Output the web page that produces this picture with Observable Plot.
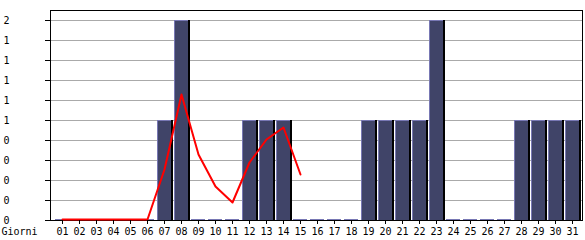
<!DOCTYPE html>
<html>
<head>
<meta charset="utf-8">
<script src="https://cdn.jsdelivr.net/npm/d3@7"></script>
<script src="https://cdn.jsdelivr.net/npm/@observablehq/plot@0.6"></script>
<style>
html,body{margin:0;padding:0;background:#fff;}
svg{display:block;}
</style>
</head>
<body>
<div id="chart"></div>
<script>
const dayLabels = ["01","02","03","04","05","06","07","08","09","10","11","12","13","14","15","16","17","18","19","20","21","22","23","24","25","26","27","28","29","30","31"];
const counts = [0,0,0,0,0,0,1,2,0,0,0,1,1,1,0,0,0,0,1,1,1,1,2,0,0,0,0,1,1,1,1];
const trendDays = ["01","02","03","04","05","06","07","08","09","10","11","12","13","14","15"];
const trendValues = [0,0,0,0,0,0,0.5,1.25,0.65,0.33,0.17,0.57,0.8,0.92,0.45];
const yTicks = [0,0.2,0.4,0.6,0.8,1,1.2,1.4,1.6,1.8,2];
const yTickLabels = ["0","0","0","0","0","1","1","1","1","1","2"];
const xTitle = "Giorni";

const bars = dayLabels.map((lab, i) => ({day: i + 1, label: lab, v: counts[i]}));
const trend = trendDays.map((lab, i) => ({day: +lab, v: trendValues[i]}));
const yAxis = yTicks.map((t, i) => ({t, label: yTickLabels[i]}));

const half = 7 / 17, sh = 9 / 17;
const dark = "#404468", lav = "#7878b4";
const font = "DejaVu Sans Mono";

const chart = Plot.plot({
  width: 585,
  height: 240,
  marginLeft: 50,
  marginRight: 3,
  marginTop: 10,
  marginBottom: 20,
  style: {fontFamily: font, fontSize: "10px", background: "#fff", color: "#000"},
  x: {type: "linear", domain: [1 - 12 / 17, 1 + 520 / 17], axis: null},
  y: {type: "linear", domain: [0, 2.1], axis: null},
  marks: [
    Plot.ruleY(yTicks.filter(t => t > 0), {stroke: "#aaaaaa"}),
    Plot.rect(bars.filter(b => b.v > 0), {x1: d => d.day - half, x2: d => d.day + half, y1: 0, y2: "v", fill: dark}),
    Plot.rect(bars.filter(b => b.v > 0), {x1: d => d.day + half, x2: d => d.day + sh, y1: 0, y2: "v", fill: "#000"}),
    Plot.ruleX(bars.filter(b => b.v > 0), {x: d => d.day - half, y1: 0, y2: "v", stroke: lav}),
    Plot.ruleY(bars.filter(b => b.v > 0), {y: "v", x1: d => d.day - half, x2: d => d.day + half, stroke: lav}),
    Plot.ruleY(bars.filter(b => b.v === 0), {y: 0, x1: d => d.day - half, x2: d => d.day + half, stroke: lav, dy: -1}),
    Plot.frame({stroke: "#000"}),
    Plot.line(trend, {x: "day", y: "v", stroke: "#ff0000", strokeWidth: 2, dy: -1}),
    Plot.axisX({ticks: bars.map(b => b.day), tickFormat: d => dayLabels[d - 1], tickSize: 4, tickPadding: 3, fontSize: 10, fill: "#000", label: null}),
    Plot.axisY({ticks: yTicks, tickSize: 5, tickFormat: () => "", label: null}),
    Plot.text(yAxis, {y: "t", text: "label", frameAnchor: "left", dx: -47, textAnchor: "start", fill: "#000", fontSize: 10}),
    Plot.text([xTitle], {frameAnchor: "bottom-left", dx: -49, dy: 11, textAnchor: "start", lineAnchor: "middle", fill: "#000", fontSize: 10})
  ]
});
document.getElementById("chart").appendChild(chart);
</script>
</body>
</html>
